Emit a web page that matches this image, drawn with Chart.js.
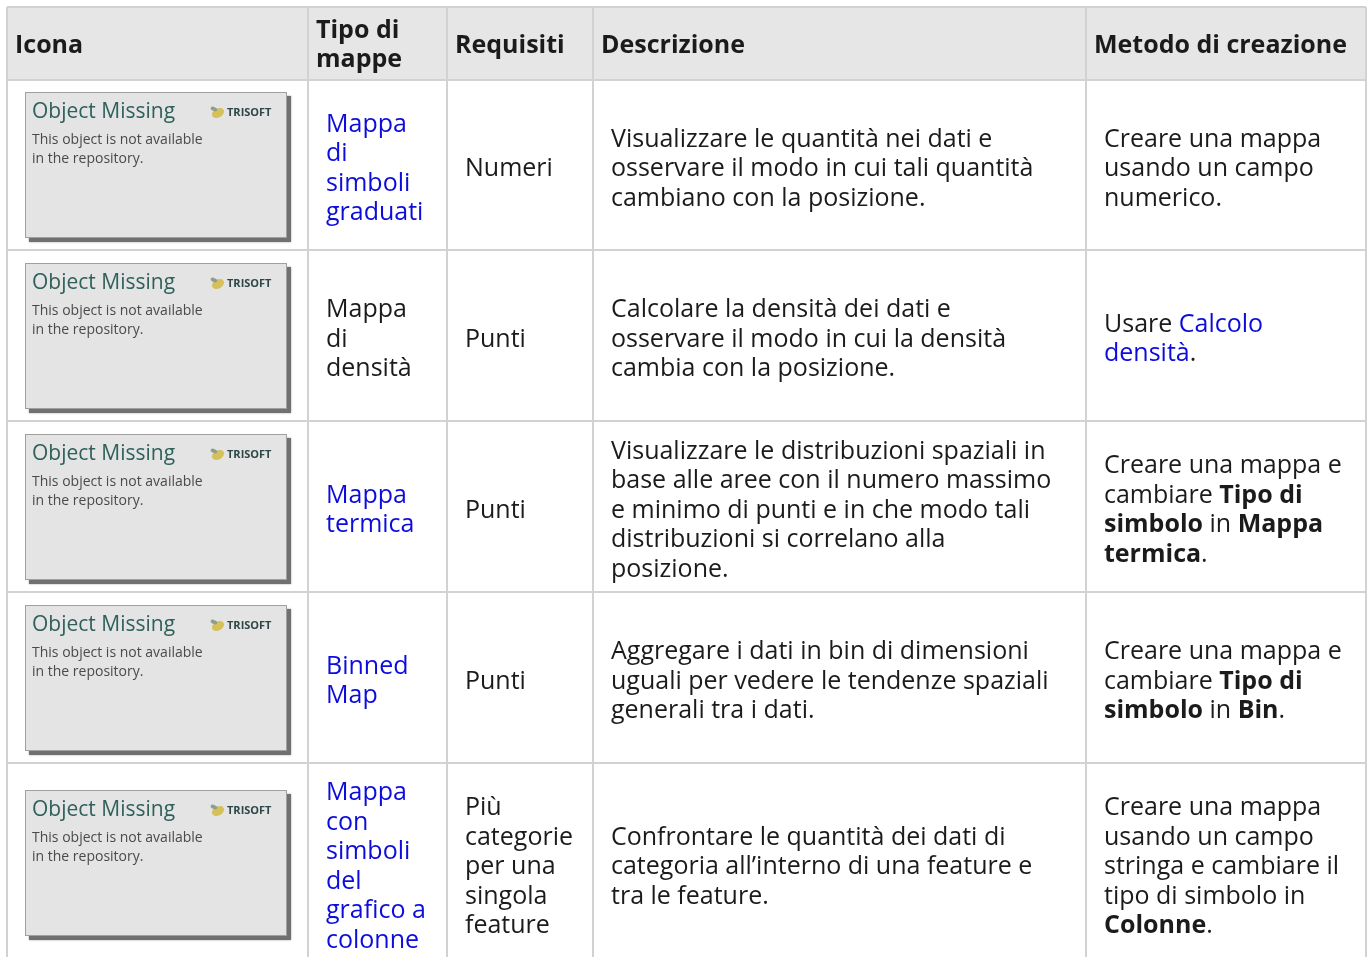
<!DOCTYPE html>
<html>
<head>
<meta charset="utf-8">
<title>Tipi di mappe</title>
<script src="https://cdn.jsdelivr.net/npm/chart.js@4.4.1/dist/chart.umd.min.js"></script>
<style>
  html, body { margin: 0; padding: 0; background: #fff; }
  canvas { display: block; }
</style>
</head>
<body>
<canvas id="mapTable" width="1369" height="957"></canvas>
<script>
// ---- table content (lines wrapped as in the reference; [x] = link, **x** = bold) ----
const headers = [['Icona'], ['Tipo di', 'mappe'], ['Requisiti'], ['Descrizione'], ['Metodo di creazione']];

const mapTypes = [
  ['[Mappa]', '[di]', '[simboli]', '[graduati]'],
  ['Mappa', 'di', 'densità'],
  ['[Mappa]', '[termica]'],
  ['[Binned]', '[Map]'],
  ['[Mappa]', '[con]', '[simboli]', '[del]', '[grafico a]', '[colonne]']
];

const requirements = [
  ['Numeri'],
  ['Punti'],
  ['Punti'],
  ['Punti'],
  ['Più', 'categorie', 'per una', 'singola', 'feature']
];

const descriptions = [
  ['Visualizzare le quantità nei dati e', 'osservare il modo in cui tali quantità', 'cambiano con la posizione.'],
  ['Calcolare la densità dei dati e', 'osservare il modo in cui la densità', 'cambia con la posizione.'],
  ['Visualizzare le distribuzioni spaziali in', 'base alle aree con il numero massimo', 'e minimo di punti e in che modo tali', 'distribuzioni si correlano alla', 'posizione.'],
  ['Aggregare i dati in bin di dimensioni', 'uguali per vedere le tendenze spaziali', 'generali tra i dati.'],
  ['Confrontare le quantità dei dati di', 'categoria all\u2019interno di una feature e', 'tra le feature.']
];

const methods = [
  ['Creare una mappa', 'usando un campo', 'numerico.'],
  ['Usare [Calcolo]', '[densità].'],
  ['Creare una mappa e', 'cambiare **Tipo di**', '**simbolo** in **Mappa**', '**termica**.'],
  ['Creare una mappa e', 'cambiare **Tipo di**', '**simbolo** in **Bin**.'],
  ['Creare una mappa', 'usando un campo', 'stringa e cambiare il', 'tipo di simbolo in', '**Colonne**.']
];

const placeholderTitle = 'Object Missing';
const placeholderText = ['This object is not available', 'in the repository.'];
const placeholderLogo = 'TRISOFT';

// ---- layout / style ----
const layout = {
  colEdges: [7, 308, 447, 593, 1086, 1366],
  rowEdges: [7, 80, 250, 421, 592, 763, 963],
  headPad: 8,
  cellPad: 18,
  lineHeight: 29.5,
  headShift: 2,
  textShift: 4
};

const style = {
  font: '"Open Sans", "Noto Sans", sans-serif',
  size: 25,
  headSize: 25,
  text: '#1b1b1b',
  link: '#0c0cdc',
  grid: '#d2d2d2',
  headBg: '#e6e6e6'
};

function parseRuns(line) {
  return line.split(/(\*\*[^*]+\*\*|\[[^\]]+\])/).filter(s => s.length).map(s => {
    if (s.startsWith('**')) return { text: s.slice(2, -2), bold: true };
    if (s.startsWith('[')) return { text: s.slice(1, -1), link: true };
    return { text: s };
  });
}

function drawLines(ctx, lines, x, cy, forceBold) {
  const lh = layout.lineHeight;
  const top = cy - lines.length * lh / 2;
  const size = forceBold ? style.headSize : style.size;
  ctx.textBaseline = 'middle';
  ctx.textAlign = 'left';
  lines.forEach((line, i) => {
    let px = x;
    const py = top + lh * (i + 0.5);
    parseRuns(line).forEach(run => {
      ctx.font = ((run.bold || forceBold) ? '700 ' : '400 ') + size + 'px ' + style.font;
      ctx.fillStyle = run.link ? style.link : style.text;
      ctx.fillText(run.text, px, py);
      px += ctx.measureText(run.text).width;
    });
  });
}

function drawPlaceholder(ctx, x, cy) {
  const w = 262, h = 146;
  const y = Math.round(cy - h / 2);
  ctx.save();
  ctx.fillStyle = '#707070';
  ctx.shadowColor = 'rgba(0,0,0,0.35)';
  ctx.shadowBlur = 2;
  ctx.fillRect(x + 4, y + 4, w, h);
  ctx.restore();
  ctx.fillStyle = '#e4e4e4';
  ctx.fillRect(x, y, w, h);
  ctx.strokeStyle = '#a0a0a0';
  ctx.lineWidth = 1;
  ctx.strokeRect(x + 0.5, y + 0.5, w - 1, h - 1);

  ctx.textAlign = 'left';
  ctx.textBaseline = 'alphabetic';
  ctx.font = '400 21px ' + style.font;
  ctx.fillStyle = '#2f605a';
  ctx.fillText(placeholderTitle, x + 7, y + 26);
  ctx.font = '400 14px ' + style.font;
  ctx.fillStyle = '#4a4a4a';
  placeholderText.forEach((t, i) => ctx.fillText(t, x + 7, y + 52 + i * 19));

  // little logo
  ctx.fillStyle = '#d6c05a';
  ctx.beginPath();
  ctx.ellipse(x + 193, y + 21, 6.5, 4.5, -0.5, 0, Math.PI * 2);
  ctx.fill();
  ctx.fillStyle = '#8f9f8a';
  ctx.beginPath();
  ctx.ellipse(x + 189, y + 17, 3.5, 2, 0.4, 0, Math.PI * 2);
  ctx.fill();
  ctx.font = '700 11px ' + style.font;
  ctx.fillStyle = '#2d4646';
  ctx.fillText(placeholderLogo, x + 202, y + 24);
}

const tablePlugin = {
  id: 'tablePlugin',
  beforeDraw(chart) {
    const { ctx, scales: { x, y } } = chart;
    const l = x.getPixelForValue(layout.colEdges[0]);
    const r = x.getPixelForValue(layout.colEdges[layout.colEdges.length - 1]);
    const t = y.getPixelForValue(layout.rowEdges[0]);
    const b = y.getPixelForValue(layout.rowEdges[1]);
    ctx.save();
    ctx.fillStyle = style.headBg;
    ctx.fillRect(l, t, r - l, b - t);
    ctx.restore();
  },
  afterDraw(chart) {
    const { ctx, scales: { x, y } } = chart;
    const ce = layout.colEdges, re = layout.rowEdges;
    ctx.save();
    // header
    const hcy = (y.getPixelForValue(re[0]) + y.getPixelForValue(re[1])) / 2 + layout.headShift;
    headers.forEach((h, c) => {
      drawLines(ctx, h, x.getPixelForValue(ce[c]) + layout.headPad, hcy, true);
    });
    // body rows
    const columns = [null, mapTypes, requirements, descriptions, methods];
    for (let r = 0; r < mapTypes.length; r++) {
      const cy = (y.getPixelForValue(re[r + 1]) + y.getPixelForValue(re[r + 2])) / 2;
      drawPlaceholder(ctx, x.getPixelForValue(ce[0]) + layout.cellPad, cy);
      for (let c = 1; c < columns.length; c++) {
        drawLines(ctx, columns[c][r], x.getPixelForValue(ce[c]) + layout.cellPad, cy + layout.textShift, false);
      }
    }
    ctx.restore();
  }
};

const gridAxis = (edges, min, max, reverse) => ({
  type: 'linear',
  min: min,
  max: max,
  reverse: reverse,
  afterBuildTicks: axis => {
    axis.ticks = edges.filter(v => v <= max).map(v => ({ value: v }));
  },
  grid: { color: style.grid, lineWidth: 2, drawTicks: false },
  border: { display: false },
  ticks: { display: false }
});

new Chart(document.getElementById('mapTable'), {
  type: 'scatter',
  data: { datasets: [] },
  options: {
    responsive: false,
    animation: false,
    layout: { padding: { top: 7, left: 7, right: 3, bottom: 0 } },
    scales: {
      x: gridAxis(layout.colEdges, 7, 1366, false),
      y: gridAxis(layout.rowEdges, 7, 957, true)
    },
    plugins: { legend: { display: false }, tooltip: { enabled: false } }
  },
  plugins: [tablePlugin]
});
</script>
</body>
</html>
